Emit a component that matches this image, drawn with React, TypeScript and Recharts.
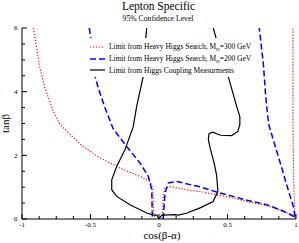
import React from 'react';
import { LineChart, Line, XAxis, YAxis, Legend, Label } from 'recharts';

const FONT = '"Liberation Serif", "Times New Roman", serif';

// ---- data (cos(beta-alpha), tan(beta)) ----
const redLeft: [number, number][] = [
  [-0.917, 6], [-0.893, 5.37], [-0.869, 4.74], [-0.832, 4.11], [-0.772, 3.38],
  [-0.72, 2.96], [-0.655, 2.68], [-0.56, 2.3], [-0.44, 1.94], [-0.285, 1.6],
  [-0.139, 1.34], [-0.066, 1.18], [-0.046, 0.97], [-0.04, 0.29], [-0.03, 0],
];
const redRight: [number, number][] = [
  [0.025, 0], [0.031, 0.71], [0.044, 0.97], [0.08, 1.02], [0.226, 0.9],
  [0.3, 0.86], [0.42, 0.76], [0.54, 0.66], [0.66, 0.53], [0.786, 0.42],
  [0.9, 0.26], [0.98, 0.12], [0.995, 0.05], [0.99, 0.4], [0.983, 1.2],
  [0.978, 3], [0.978, 6],
];
const blueLeft: [number, number][] = [
  [-0.509, 6], [-0.491, 5.47], [-0.467, 4.48], [-0.443, 4.11], [-0.394, 3.49],
  [-0.334, 2.83], [-0.236, 2.28], [-0.139, 1.76], [-0.078, 1.34], [-0.053, 0.92],
  [-0.049, 0.08], [-0.045, 0],
];
const blueRight: [number, number][] = [
  [0.031, 0], [0.044, 0.82], [0.068, 1.13], [0.13, 1.18], [0.226, 1.08],
  [0.3, 1.01], [0.42, 0.85], [0.54, 0.71], [0.66, 0.57], [0.786, 0.45],
  [0.9, 0.26], [0.985, 0.08], [0.995, 0.04], [0.98, 0.4], [0.955, 0.75],
  [0.93, 1.1], [0.9, 1.55], [0.865, 2.05], [0.83, 2.55], [0.8, 2.98],
  [0.78, 3.8], [0.761, 4.9], [0.732, 6],
];
const blackCurve: [number, number][] = [
  [-0.09, 6], [-0.1, 5.5], [-0.115, 4.48], [-0.163, 3.54], [-0.188, 2.9],
  [-0.248, 2.18], [-0.309, 1.65], [-0.345, 1.23], [-0.345, 0.92], [-0.309, 0.71],
  [-0.212, 0.45], [-0.09, 0.19], [-0.04, 0.12], [-0.015, 0.12], [0.0, 0.0],
  [0.02, 0.12], [0.08, 0.13], [0.12, 0.14], [0.14, 0.12], [0.2, 0.18],
  [0.3, 0.35], [0.395, 0.55], [0.43, 0.87], [0.42, 1.39], [0.4, 1.8],
  [0.375, 2.2], [0.36, 2.5], [0.365, 2.68], [0.39, 2.73], [0.45, 2.63],
  [0.53, 2.62], [0.575, 2.75], [0.59, 2.96], [0.59, 3.22], [0.567, 3.54],
  [0.505, 4.48], [0.42, 5.63], [0.396, 6],
];

// ---- ticks ----
const xTicks = [-1, -0.875, -0.75, -0.625, -0.5, -0.375, -0.25, -0.125, 0, 0.125, 0.25, 0.375, 0.5, 0.625, 0.75, 0.875, 1];
const xMajor = [-1, -0.5, 0, 0.5, 1];
const xMajorLabels = ['-1', '-0.5', '0', '0.5', '1'];
const yTicks = [0, 0.5, 1, 1.5, 2, 2.5, 3, 3.5, 4, 4.5, 5, 5.5, 6];
const yMajor = [0, 2, 4, 6];
const yMajorLabels = ['0', '2', '4', '6'];

const seriesNames = [
  'Limit from Heavy Higgs Search, M_H=300 GeV',
  'Limit from Heavy Higgs Search, M_H=200 GeV',
  'Limit from Higgs Coupling Measurments',
];

const toPts = (pairs: [number, number][]) => pairs.map(([x, y]) => ({ x, y }));
const redData = [...toPts(redLeft), { x: 0, y: null }, ...toPts(redRight)];
const blueData = [...toPts(blueLeft), { x: 0, y: null }, ...toPts(blueRight)];
const blackData = toPts(blackCurve);

const styles = [
  { color: '#ff0000', dash: '1.2 1.8', width: 1.2 },
  { color: '#0000ff', dash: '6 3', width: 1.5 },
  { color: '#000000', dash: undefined as string | undefined, width: 1.2 },
];

const majorIdx = (arr: number[], v: number) => arr.findIndex((m) => Math.abs(m - v) < 1e-9);

const BottomTick = (p: any) => {
  const { x, y, payload } = p;
  const i = majorIdx(xMajor, payload.value);
  return (
    <g>
      <line x1={x} y1={y} x2={x} y2={y - (i >= 0 ? 5 : 3)} stroke="#000" strokeWidth={1} />
      {i >= 0 && (
        <text x={x} y={y + 8} textAnchor="middle" fontSize={7} fontFamily={FONT} fill="#000">
          {xMajorLabels[i]}
        </text>
      )}
    </g>
  );
};
const TopTick = (p: any) => {
  const { x, y, payload } = p;
  const i = majorIdx(xMajor, payload.value);
  return <line x1={x} y1={y} x2={x} y2={y + (i >= 0 ? 5 : 3)} stroke="#000" strokeWidth={1} />;
};
const LeftTick = (p: any) => {
  const { x, y, payload } = p;
  const i = majorIdx(yMajor, payload.value);
  return (
    <g>
      <line x1={x} y1={y} x2={x + (i >= 0 ? 5 : 3)} y2={y} stroke="#000" strokeWidth={1} />
      {i >= 0 && (
        <text x={x - 4.5} y={y + 2.4} textAnchor="end" fontSize={7} fontFamily={FONT} fill="#000">
          {yMajorLabels[i]}
        </text>
      )}
    </g>
  );
};
const RightTick = (p: any) => {
  const { x, y, payload } = p;
  const i = majorIdx(yMajor, payload.value);
  return <line x1={x} y1={y} x2={x - (i >= 0 ? 5 : 3)} y2={y} stroke="#000" strokeWidth={1} />;
};

const renderName = (s: string) => {
  const k = s.indexOf('M_H');
  if (k < 0) return s;
  return (
    <>
      {s.slice(0, k)}M
      <span style={{ fontSize: '5px', position: 'relative', top: '1.5px' }}>H</span>
      {s.slice(k + 3)}
    </>
  );
};

const LegendContent = () => {
  return (
    <div
      style={{
        background: '#fff',
        padding: '3px 4px 1px 2px',
        fontFamily: FONT,
        fontSize: '7.5px',
        color: '#000',
      }}
    >
      {seriesNames.map((name, i) => {
        const st = styles[i];
        return (
          <div key={i} style={{ display: 'flex', alignItems: 'center', height: '11.7px', whiteSpace: 'nowrap' }}>
            <svg width={15} height={4} style={{ marginRight: 4, display: 'block' }}>
              <line x1={0} y1={2} x2={15} y2={2} stroke={st.color} strokeWidth={st.width} strokeDasharray={st.dash} />
            </svg>
            <span>{renderName(name)}</span>
          </div>
        );
      })}
    </div>
  );
};

const YLabel = (props: any) => {
  const vb = props.viewBox || { x: 0, y: 28, width: 22, height: 191 };
  const cx = vb.x + 9;
  const cy = vb.y + vb.height / 2;
  return (
    <text x={cx} y={cy} transform={`rotate(-90 ${cx} ${cy})`} textAnchor="middle" fontSize={11} fontFamily={FONT} fill="#000">
      tanβ
    </text>
  );
};

export default function App() {
  return (
    <div style={{ position: 'absolute', left: 0, top: 0, width: 299, height: 243, background: '#fff' }}>
      <LineChart width={299} height={243} margin={{ top: 28, right: 3, bottom: 0, left: 0 }}>
        <XAxis
          xAxisId="b"
          dataKey="x"
          type="number"
          domain={[-1, 1]}
          allowDataOverflow
          ticks={xTicks}
          interval={0}
          tick={BottomTick}
          tickLine={false}
          tickSize={0}
          tickMargin={0}
          height={24}
          axisLine={{ stroke: '#000', strokeWidth: 1 }}
        >
          <Label value="cos(β-α)" position="insideBottom" offset={4.5} dx={3} fontSize={11} fontFamily={FONT} fill="#000" />
        </XAxis>
        <XAxis
          xAxisId="t"
          orientation="top"
          dataKey="x"
          type="number"
          domain={[-1, 1]}
          allowDataOverflow
          ticks={xTicks}
          interval={0}
          tick={TopTick}
          tickLine={false}
          tickSize={0}
          tickMargin={0}
          height={0}
          axisLine={{ stroke: '#000', strokeWidth: 1 }}
        />
        <YAxis
          yAxisId="l"
          type="number"
          domain={[0, 6]}
          allowDataOverflow
          ticks={yTicks}
          interval={0}
          tick={LeftTick}
          tickLine={false}
          tickSize={0}
          tickMargin={0}
          width={22}
          axisLine={{ stroke: '#000', strokeWidth: 1 }}
        >
          <Label content={YLabel} />
        </YAxis>
        <YAxis
          yAxisId="r"
          orientation="right"
          type="number"
          domain={[0, 6]}
          allowDataOverflow
          ticks={yTicks}
          interval={0}
          tick={RightTick}
          tickLine={false}
          tickSize={0}
          tickMargin={0}
          width={0}
          axisLine={{ stroke: '#000', strokeWidth: 1 }}
        />
        <Line
          xAxisId="b"
          yAxisId="l"
          data={redData}
          dataKey="y"
          name={seriesNames[0]}
          type="linear"
          stroke={styles[0].color}
          strokeWidth={styles[0].width}
          strokeDasharray={styles[0].dash}
          dot={false}
          activeDot={false}
          isAnimationActive={false}
        />
        <Line
          xAxisId="b"
          yAxisId="l"
          data={blueData}
          dataKey="y"
          name={seriesNames[1]}
          type="linear"
          stroke={styles[1].color}
          strokeWidth={styles[1].width}
          strokeDasharray={styles[1].dash}
          dot={false}
          activeDot={false}
          isAnimationActive={false}
        />
        <Line
          xAxisId="b"
          yAxisId="l"
          data={blackData}
          dataKey="y"
          name={seriesNames[2]}
          type="linear"
          stroke={styles[2].color}
          strokeWidth={styles[2].width}
          dot={false}
          activeDot={false}
          isAnimationActive={false}
        />
        <Legend
          layout="vertical"
          align="center"
          verticalAlign="middle"
          content={LegendContent}
          wrapperStyle={{ left: 88, top: 38, width: 'auto' }}
        />
      </LineChart>
      <svg width={299} height={30} style={{ position: 'absolute', left: 0, top: 0, pointerEvents: 'none' }}>
        <text x={158.5} y={10.3} textAnchor="middle" fontSize={11.5} fontFamily={FONT} fill="#000">
          Lepton Specific
        </text>
        <text x={158} y={21} textAnchor="middle" fontSize={7.7} fontFamily={FONT} fill="#000">
          95% Confidence Level
        </text>
      </svg>
    </div>
  );
}
